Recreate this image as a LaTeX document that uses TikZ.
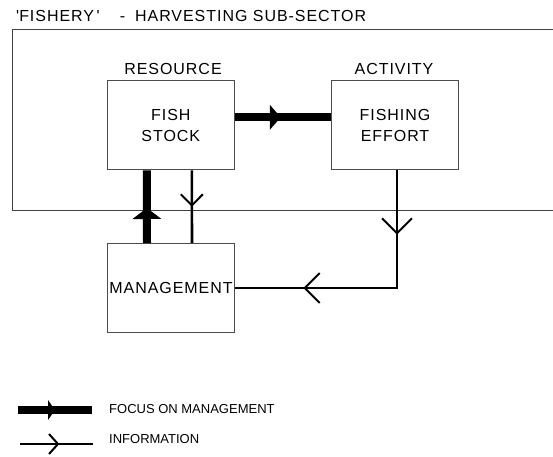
\documentclass[tikz,border=0pt]{standalone}
\usepackage{fontspec}
\setmainfont{Liberation Sans}
\newfontfamily\labelfont[LetterSpace=6]{Liberation Sans}
\usepackage{tikz}
\usetikzlibrary{calc}
\usetikzlibrary{decorations.markings}

\begin{document}
\begin{tikzpicture}[x=1pt, y=-1pt]
    % ================= styles =================
    \tikzset{
        % boxes: white with grey border
        box/.style={draw=black!70, line width=1pt, fill=white, minimum width=127pt, minimum height=89pt, inner sep=0pt, align=center, font=\labelfont\fontsize{16}{20.7}\selectfont},
        % text labels
        lbl/.style={inner sep=0pt, font=\labelfont\fontsize{16}{19}\selectfont},
        keytext/.style={inner sep=0pt, anchor=west, font=\fontsize{13}{15}\selectfont},
        % lines
        frame/.style={draw=black!75, line width=1pt},
        focus/.style={line width=8pt, black},
        info/.style={line width=2.6pt, black},
        % filled head: position / length / half width
        fhead/.style args={#1/#2/#3}{postaction={decorate, decoration={markings, mark=at position #1 with {\fill[black] (0,-#3) -- (#2,0) -- (0,#3) -- cycle;}}}},
        % open barb: position / length / half width
        vhead/.style args={#1/#2/#3}{postaction={decorate, decoration={markings, mark=at position #1 with {\draw[black, line width=2pt] (-#2,-#3) -- (0,0) -- (-#2,#3);}}}}
    }
    \useasboundingbox (0,0) rectangle (553,456);

    % ================= title and sub-sector frame =================
    \node[lbl, anchor=west] (title) at (16,16) {\textquotesingle FISHERY\,\textquotesingle\hspace{20pt}-\hspace{10pt}HARVESTING SUB-SECTOR};
    \draw[frame] (553,29) -| (12.3,210) -- (553,210);

    % ================= boxes =================
    \node[box] (stock) at (170.8,125.3) {FISH\\STOCK};
    \node[box] (effort) at (395,125.3) {FISHING\\EFFORT};
    \node[box] (mgmt) at (171,288) {MANAGEMENT};

    \node[lbl] (resource) at (173,69) {RESOURCE};
    \node[lbl] (activity) at (394,69) {ACTIVITY};

    % ================= connectors =================
    % 1. focus on management (thick)
    \draw[focus, fhead=35pt/11pt/12.5pt] ([yshift=8pt]stock.east) -- ([yshift=8pt]effort.west);
    \draw[focus, fhead=24pt/11pt/14.5pt] ([xshift=-24pt]mgmt.north) -- ([xshift=-24pt]stock.south);

    % 2. information (thin with barbs)
    \draw[info, vhead=35pt/11pt/11pt] ([xshift=21pt]stock.south) -- ([xshift=21pt]mgmt.north);
    \draw[info, vhead=63pt/15pt/15pt, vhead=210pt/15pt/15pt] ([xshift=2pt]effort.south) |- (mgmt.east);

    % ================= legend =================
    \coordinate (fa) at (18,410);
    \coordinate (fb) at (92,410);
    \draw[focus, fhead=30pt/7pt/10pt] (fa) -- (fb);
    \node[keytext] (fkey) at (109,409) {FOCUS ON MANAGEMENT};

    \coordinate (ia) at (20,444);
    \coordinate (ib) at (93,444);
    \draw[info, vhead=38pt/9pt/10pt] (ia) -- (ib);
    \node[keytext] (ikey) at (109,439) {INFORMATION};

\end{tikzpicture}
\end{document}
